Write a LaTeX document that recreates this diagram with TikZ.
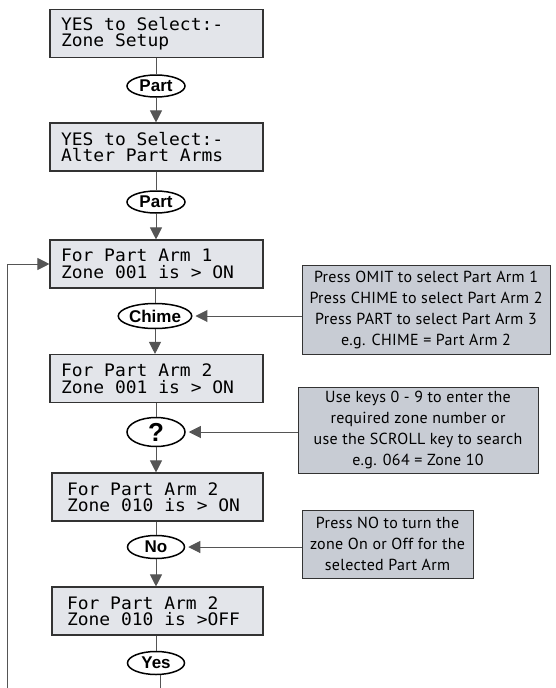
\documentclass[tikz,border=0pt]{standalone}
\usepackage{fontspec}
\usetikzlibrary{shapes.geometric,arrows.meta}
\newfontfamily\lcdfont[FakeStretch=1.045]{DejaVu Sans Mono}
\newfontfamily\infofont[LetterSpace=2]{PT Sans}
\newfontfamily\keyfont{Liberation Sans}
\newcommand\lsp{\hspace*{10.8pt}}
\definecolor{lcdfill}{HTML}{E3E5EA}
\definecolor{infofill}{HTML}{C8CCD4}
\definecolor{edgecol}{HTML}{333333}
\definecolor{linecol}{HTML}{555555}
\begin{document}
\begin{tikzpicture}[x=1pt,y=-1pt,
  lcd/.style={draw=edgecol, line width=1.1pt, fill=lcdfill, rectangle,
    minimum width=213pt, minimum height=48pt, text width=191pt,
    inner xsep=11pt, inner ysep=0pt, align=left,
    font=\lcdfont\fontsize{17.2pt}{16.5pt}\selectfont},
  lcdb/.style={lcd, minimum width=211pt, text width=181pt, inner xsep=15pt},
  info/.style={draw=edgecol, line width=1pt, fill=infofill, inner sep=0pt,
    align=center, font=\infofont\fontsize{16pt}{21pt}\selectfont},
  key/.style={draw=black, line width=1.5pt, ellipse, inner sep=0pt,
    minimum width=57pt, minimum height=23pt,
    font=\keyfont\bfseries\fontsize{17pt}{17pt}\selectfont},
  conn/.style={draw=linecol, line width=1pt},
  arr/.style={conn, -{Triangle[length=12pt,width=12pt]}}
]
\useasboundingbox (0,0) rectangle (555,688);

% display boxes
\node[lcd]  (b1) at (156.5,33.5) {\mbox{YES\lsp to\lsp Select:-}\\\mbox{Zone\lsp Setup}};
\node[lcd]  (b2) at (156.5,147)  {\mbox{YES\lsp to\lsp Select:-}\\\mbox{Alter\lsp Part\lsp Arms}};
\node[lcd]  (b3) at (156.5,264)  {\mbox{For\lsp Part\lsp Arm\lsp 1}\\\mbox{Zone\lsp 001\lsp is\lsp >\lsp ON}};
\node[lcd]  (b4) at (156.5,378.5){\mbox{For\lsp Part\lsp Arm\lsp 2}\\\mbox{Zone\lsp 001\lsp is\lsp >\lsp ON}};
\node[lcdb] (b5) at (157.5,497)  {\mbox{For\lsp Part\lsp Arm\lsp 2}\\\mbox{Zone\lsp 010\lsp is\lsp >\lsp ON}};
\node[lcdb] (b6) at (157.5,611)  {\mbox{For\lsp Part\lsp Arm\lsp 2}\\\mbox{Zone\lsp 010\lsp is\lsp >OFF}};

% key ellipses
\node[key, minimum width=58pt, minimum height=22pt] (k1) at (156,86)  {Part};
\node[key, minimum width=58pt, minimum height=22pt] (k2) at (156,202) {Part};
\node[key, minimum width=56pt, minimum height=25pt] (k3) at (155,316) {Chime};
\node[key, minimum width=58pt, minimum height=29pt,
      font=\keyfont\bfseries\fontsize{26pt}{26pt}\selectfont] (k4) at (156,432) {?};
\node[key] (k5) at (156,547) {No};
\node[key] (k6) at (156,663) {Yes};

% info boxes
\node[info, minimum width=248pt, minimum height=89pt] (i1) at (426,309.5)
  {Press OMIT to select Part Arm 1\\Press CHIME to select Part Arm 2\\Press PART to select Part Arm 3\\e.g. CHIME = Part Arm 2};
\node[info, minimum width=240pt, minimum height=86pt] (i2) at (418,430)
  {Use keys 0 - 9 to enter the\\required zone number or\\use the SCROLL key to search\\e.g. 064 = Zone 10};
\node[info, minimum width=171pt, minimum height=68pt] (i3) at (387.5,544)
  {Press NO to turn the\\zone On or Off for the\\selected Part Arm};

% vertical flow
\draw[conn] (k1.north |- b1.south) -- (k1.north);
\draw[arr]  (k1.south) -- (k1.south |- b2.north);
\draw[conn] (k2.north |- b2.south) -- (k2.north);
\draw[arr]  (k2.south) -- (k2.south |- b3.north);
\draw[conn] (k3.north |- b3.south) -- (k3.north);
\draw[arr]  (k3.south) -- (k3.south |- b4.north);
\draw[conn] (k4.north |- b4.south) -- (k4.north);
\draw[arr]  (k4.south) -- (k4.south |- b5.north);
\draw[conn] (k5.north |- b5.south) -- (k5.north);
\draw[arr]  (k5.south) -- (k5.south |- b6.north);
\draw[conn] (k6.north |- b6.south) -- (k6.north);

% loop back
\coordinate (yesend) at (160,688);
\coordinate (loopend) at (7,688);
\draw[conn] (k6.south -| yesend) -- (yesend);
\draw[arr] (loopend) |- (b3.west);

% info arrows
\draw[arr] (i1.west |- k3.east) -- ([xshift=3pt]k3.east);
\draw[arr] (i2.west |- k4.east) -- ([xshift=3pt]k4.east);
\draw[arr] (i3.west |- k5.east) -- ([xshift=3pt]k5.east);
\end{tikzpicture}
\end{document}
